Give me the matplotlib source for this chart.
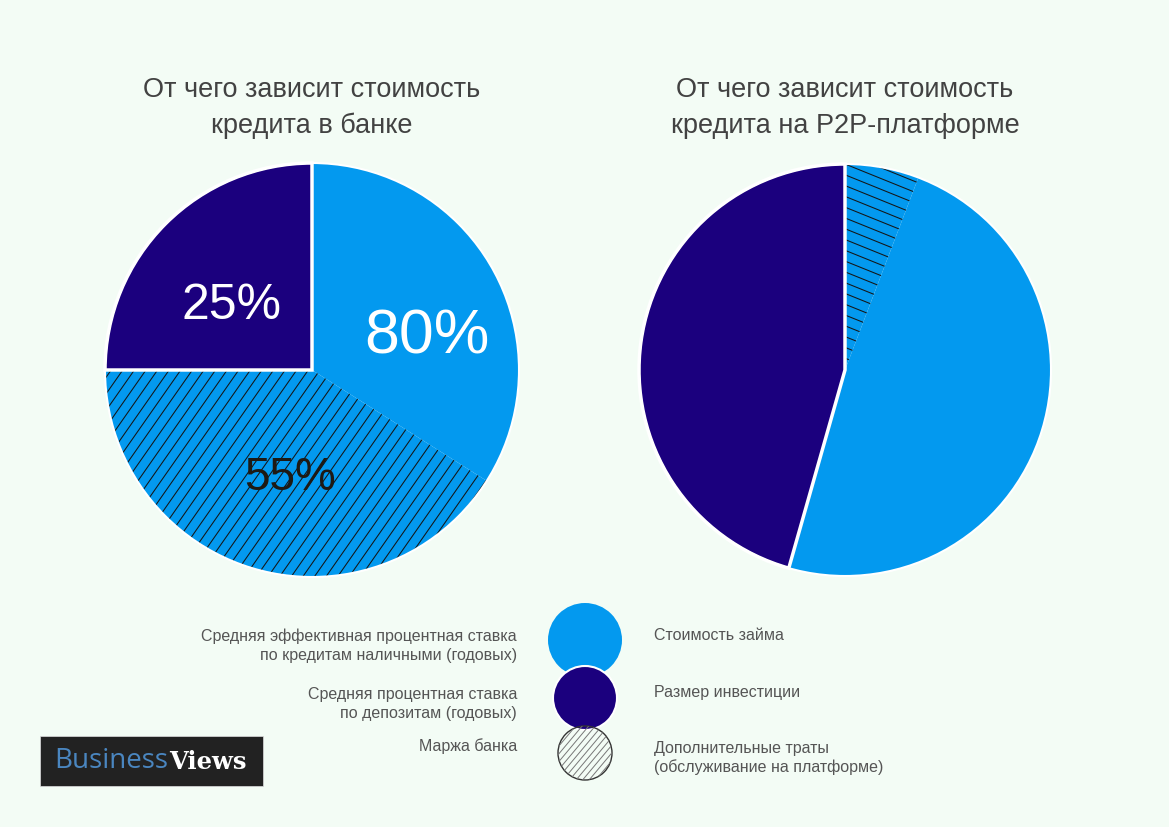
import numpy as np
import matplotlib
matplotlib.use("Agg")
import matplotlib.pyplot as plt
from matplotlib.patches import Circle, Rectangle
from matplotlib.collections import LineCollection

plt.rcParams['font.family'] = ['Liberation Sans', 'DejaVu Sans']

# ---- data ----
bank_titles = "От чего зависит стоимость\nкредита в банке"
p2p_titles = "От чего зависит стоимость\nкредита на P2P-платформе"
bank_values = [34, 41, 25]            # loan rate, bank margin (hatched), deposit rate
bank_labels = ["80%", "55%", "25%"]
p2p_values = [5.8, 48.6, 45.6]        # extra costs (hatched), loan cost, investment
legend_left = ["Средняя эффективная процентная ставка\nпо кредитам наличными (годовых)",
               "Средняя процентная ставка\nпо депозитам (годовых)",
               "Маржа банка"]
legend_right = ["Стоимость займа", "Размер инвестиции",
                "Дополнительные траты\n(обслуживание на платформе)"]

W, H = 1169, 827
BG = '#F3FCF5'
LBLUE = '#0399EF'
DARK = '#1B007E'
TXT = '#424242'

def Y(y):
    return H - y

fig = plt.figure(figsize=(W / 100, H / 100), dpi=100, facecolor=BG)
ax = fig.add_axes([0, 0, 1, 1])
ax.set_facecolor(BG)


def hatch_lines(patch, cx, cy, r, angle_deg, spacing, color='#151515', lw=0.75, z=3):
    a = np.deg2rad(angle_deg)
    d = np.array([np.cos(a), np.sin(a)])
    n = np.array([-np.sin(a), np.cos(a)])
    segs = []
    for off in np.arange(-r * 1.5, r * 1.5, spacing):
        p = np.array([cx, cy]) + n * off
        segs.append([p - d * r * 1.6, p + d * r * 1.6])
    lc = LineCollection(segs, colors=color, linewidths=lw, zorder=z)
    lc.set_clip_path(patch)
    ax.add_collection(lc)


def draw_pie(values, colors, center, radius, hatched_idx, dark_idx, hatch_angle, spacing):
    wedges, _ = ax.pie(values, colors=colors, startangle=90, counterclock=False,
                       center=center, radius=radius,
                       wedgeprops=dict(edgecolor='none', linewidth=0))
    for w in wedges:
        w.set_zorder(2)
    hatch_lines(wedges[hatched_idx], center[0], center[1], radius, hatch_angle, spacing)
    # white border around the dark slice and the whole pie
    wd = wedges[dark_idx]
    wd.set_edgecolor('white')
    wd.set_linewidth(2.5)
    wd.set_zorder(4)
    ax.add_patch(Circle(center, radius, fill=False, edgecolor='white', linewidth=1.5, zorder=4))
    return wedges


# left pie
lc_center = (312, Y(370))
draw_pie(bank_values, [LBLUE, LBLUE, DARK], lc_center, 207, 1, 2, 55, 9.5)
# right pie
rc_center = (845, Y(370))
draw_pie(p2p_values, [LBLUE, LBLUE, DARK], rc_center, 206, 0, 2, -22, 10.0)

ax.set_xlim(0, W)
ax.set_ylim(0, H)
ax.set_aspect('equal')
ax.axis('off')

# titles
ax.text(312, Y(108), bank_titles, ha='center', va='center', fontsize=19.5,
        color=TXT, linespacing=1.5, zorder=5)
ax.text(845, Y(108), p2p_titles, ha='center', va='center', fontsize=19.5,
        color=TXT, linespacing=1.5, zorder=5)

# percent labels
ax.text(427, Y(337), bank_labels[0], ha='center', va='center', fontsize=45,
        color='white', zorder=6)
ax.text(290, Y(478), bank_labels[1], ha='center', va='center', fontsize=33,
        color='#1E1A14', zorder=6)
ax.text(231, Y(306), bank_labels[2], ha='center', va='center', fontsize=36,
        color='white', zorder=6)

# legend markers
c1 = Circle((585, Y(640)), 37, facecolor=LBLUE, edgecolor='none', zorder=3)
ax.add_patch(c1)
c2 = Circle((585, Y(698)), 32, facecolor=DARK, edgecolor='white', linewidth=1.5, zorder=4)
ax.add_patch(c2)
c3 = Circle((585, Y(753)), 27, facecolor='none', edgecolor='#333333', linewidth=1.0, zorder=5)
ax.add_patch(c3)
hatch_lines(c3, 585, Y(753), 27, 50, 5.0, color='#777777', lw=0.7, z=5)

# legend texts
LTXT = '#555555'
ax.text(517, Y(646), legend_left[0], ha='right', va='center', fontsize=11.5,
        color=LTXT, linespacing=1.3, zorder=5)
ax.text(517, Y(704), legend_left[1], ha='right', va='center', fontsize=11.5,
        color=LTXT, linespacing=1.3, zorder=5)
ax.text(517, Y(746), legend_left[2], ha='right', va='center', fontsize=11.5,
        color=LTXT, zorder=5)
ax.text(654, Y(636), legend_right[0], ha='left', va='center', fontsize=11.5,
        color=LTXT, zorder=5)
ax.text(654, Y(693), legend_right[1], ha='left', va='center', fontsize=11.5,
        color=LTXT, zorder=5)
ax.text(654, Y(758), legend_right[2], ha='left', va='center', fontsize=11.5,
        color=LTXT, linespacing=1.3, zorder=5)

# logo
ax.add_patch(Rectangle((40, Y(786)), 223, 50, facecolor='#222222', edgecolor='#dddddd',
                       linewidth=0.5, zorder=5))
ax.text(54, Y(761), "Business", ha='left', va='center', fontsize=20,
        color='#4A86C0', family=['Open Sans', 'DejaVu Sans'], zorder=6)
ax.text(169, Y(762), "Views", ha='left', va='center', fontsize=17.5,
        color='white', fontweight='bold', family=['DejaVu Serif'], zorder=6)

fig.savefig('out.png', dpi=100, facecolor=BG)
